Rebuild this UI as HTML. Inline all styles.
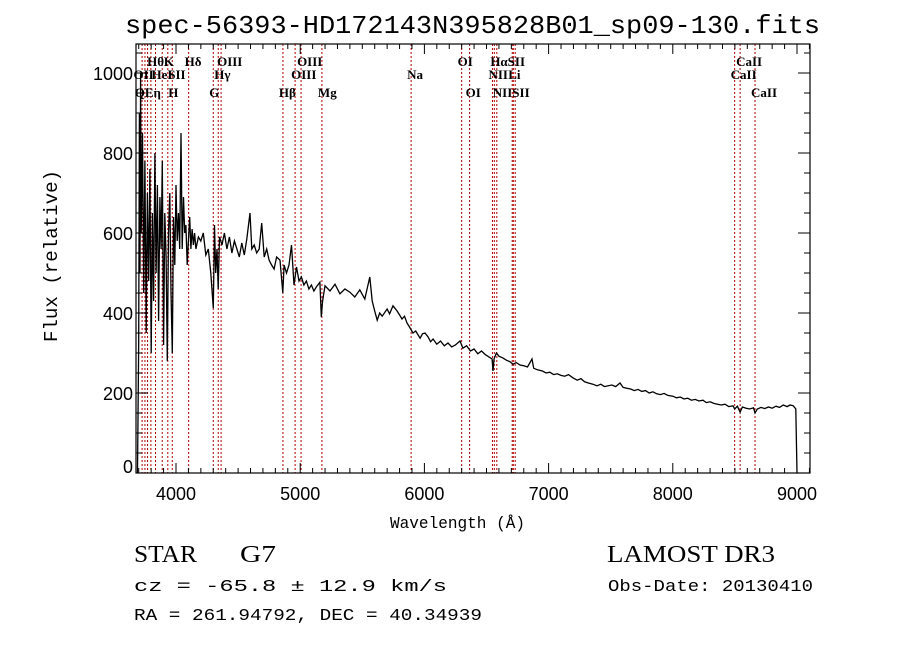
<!DOCTYPE html>
<html><head><meta charset="utf-8"><style>
html,body{margin:0;padding:0;background:#fff;}
svg{display:block;}
</style></head><body>
<svg id="chart" width="900" height="649" viewBox="0 0 900 649" xmlns="http://www.w3.org/2000/svg">
<rect width="900" height="649" fill="#fff"/>
<text x="125" y="33" font-family="Liberation Mono, monospace" font-size="26" textLength="695" lengthAdjust="spacingAndGlyphs">spec-56393-HD172143N395828B01_sp09-130.fits</text>
<g id="lines"></g>
<g id="labels" font-family="Liberation Serif, serif" font-size="13" font-weight="bold"></g>
<path id="spec" fill="none" stroke="#000" stroke-width="1.3"/>
<rect x="136" y="44" width="674" height="429" fill="none" stroke="#000" stroke-width="1.2"/>
<g id="ticks" stroke="#000" stroke-width="1"></g>
<g id="ticklabels" font-family="Liberation Sans, sans-serif" font-size="18"></g>
<text x="390" y="528" font-family="Liberation Mono, monospace" font-size="17" textLength="135" lengthAdjust="spacingAndGlyphs">Wavelength (Å)</text>
<text transform="translate(57,342) rotate(-90)" font-family="Liberation Mono, monospace" font-size="19" textLength="172" lengthAdjust="spacingAndGlyphs">Flux (relative)</text>
<text x="134" y="562" font-family="Liberation Serif, serif" font-size="24" textLength="63" lengthAdjust="spacingAndGlyphs">STAR</text>
<text x="240" y="562" font-family="Liberation Serif, serif" font-size="24" textLength="36" lengthAdjust="spacingAndGlyphs">G7</text>
<text x="607" y="562" font-family="Liberation Serif, serif" font-size="24" textLength="168" lengthAdjust="spacingAndGlyphs">LAMOST DR3</text>
<text x="134" y="591" font-family="Liberation Mono, monospace" font-size="17" textLength="313" lengthAdjust="spacingAndGlyphs">cz = -65.8 ± 12.9 km/s</text>
<text x="608" y="591" font-family="Liberation Mono, monospace" font-size="17" textLength="205" lengthAdjust="spacingAndGlyphs">Obs-Date: 20130410</text>
<text x="134" y="620" font-family="Liberation Mono, monospace" font-size="17" textLength="348" lengthAdjust="spacingAndGlyphs">RA = 261.94792, DEC =  40.34939</text>
</svg>
<script>
const wave = [3690,3700,3705,3710,3715,3720,3730,3740,3750,3760,3770,3780,3790,3800,3810,3820,3830,3840,3850,3860,3870,3880,3890,3900,3910,3920,3930,3940,3950,3960,3970,3980,3990,4000,4010,4020,4030,4040,4050,4060,4070,4080,4090,4100,4110,4120,4130,4140,4150,4160,4180,4200,4220,4240,4260,4280,4300,4310,4320,4330,4340,4350,4370,4390,4410,4430,4450,4470,4490,4510,4530,4550,4570,4596,4610,4630,4650,4670,4690,4710,4730,4750,4770,4790,4810,4837,4860,4870,4890,4910,4930,4950,4970,4990,5010,5030,5050,5070,5090,5110,5130,5159,5170,5180,
5200,5240,5280,5320,5360,5400,5440,5480,5520,5560,5580,5600,5620,5640,5660,5700,5720,5747,5780,5800,5820,5840,5860,5880,5908,5930,5965,5985,6005,6030,6050,6070,6100,6130,6160,6190,6220,6250,6287,6310,6340,6370,6400,6430,6460,6490,6520,6545,6552,6560,6580,6600,6630,6660,6690,6713,6740,6770,6800,6830,6866,6880,6910,6950,6980,7010,7040,7070,7100,7130,7160,7196,7230,7260,7290,7320,7357,7390,7420,7450,7480,7510,7540,7575,7600,7630,7660,7690,7720,7750,7780,7810,7840,7870,7900,7930,7960,8001,8030,8060,8090,8120,8150,8180,8210,8243,8270,8300,8330,8360,8390,8420,8450,8485,8498,8520,8542,8560,8590,8620,8650,8662,8680,8710,8740,8770,8800,8830,8860,8890,8920,8944,8970,8990,9000,9005];
const flux = [0,330,900,500,1000,600,850,450,780,350,700,480,760,300,650,430,800,500,720,380,690,560,780,320,650,540,280,600,700,450,300,640,520,720,580,650,560,850,560,690,600,620,520,580,640,560,610,570,600,560,590,580,600,545,560,500,412,620,500,560,460,590,570,600,560,590,550,580,560,540,575,545,585,650,560,570,550,560,625,540,560,532,520,510,540,532,450,520,500,520,570,470,515,480,490,470,480,460,470,455,465,477,390,430,
468,455,472,448,460,452,440,458,435,490,430,405,382,400,392,410,398,418,405,395,385,392,375,365,350,355,337,348,350,340,328,335,322,330,318,325,315,320,330,312,318,305,310,298,305,296,290,285,255,285,300,292,288,282,278,272,276,270,268,265,285,262,258,255,250,252,246,248,244,242,246,238,232,236,228,225,222,218,222,216,218,220,216,225,214,212,210,206,209,204,206,200,203,198,196,199,194,192,188,190,185,187,182,184,180,182,176,178,174,172,170,172,166,168,160,167,152,165,162,160,163,150,160,164,161,165,162,167,164,170,166,170,168,160,0,0];
const xTicks = [4000,5000,6000,7000,8000,9000];
const yTicks = [0,200,400,600,800,1000];
const lineWaves = [3727,3750,3771,3798,3835,3889,3934,3970,4102,4300,4340,4363,4861,4959,5007,5175,5893,6300,6364,6548,6563,6583,6707,6716,6731,8498,8542,8662];
const labelText = ["Hθ","K","Hδ","OIII","OIII","OI","HαSII","CaII","OII","HeI","SII","Hγ","OIII","Na","NII","Li","CaII","QEη","H","G","Hβ","Mg","OI","NIISII","CaII"];
const labelWave = [3800,3934,4102,4363,5007,6300,6563,8542,3690,3835,3970,4340,4959,5893,6548,6707,8498,3700,3970,4300,4861,5175,6364,6583,8662];
const labelRow = [0,0,0,0,0,0,0,0,1,1,1,1,1,1,1,1,1,2,2,2,2,2,2,2,2];

const X0=136,X1=810,Y0=473,Y1=44;
const xS = w => 176 + (w-4000)*0.1242;
const yS = f => Y0 - f*0.4;
const NS="http://www.w3.org/2000/svg";
function mk(tag, parent){const e=document.createElementNS(NS,tag);parent.appendChild(e);return e;}

let d="";
for(let i=0;i<wave.length;i++){
  const x=Math.min(Math.max(xS(wave[i]),X0),X1), y=Math.max(yS(flux[i]),Y1);
  d += (i?"L":"M")+x.toFixed(1)+" "+y.toFixed(1);
}
document.getElementById('spec').setAttribute('d',d);

const lg=document.getElementById('lines');
lineWaves.forEach(w=>{
  const l=mk('line',lg);
  
  
  const x=xS(w);
  l.setAttribute('x1',x);l.setAttribute('x2',x);l.setAttribute('y1',Y1);l.setAttribute('y2',Y0);
  l.setAttribute('stroke','#b00000');l.setAttribute('stroke-width','1');l.setAttribute('stroke-dasharray','2,2');
});
const lab=document.getElementById('labels');
const rowY=[66,79,97];
labelText.forEach((t,i)=>{
  const e=mk('text',lab);
  
  
  e.setAttribute('x',xS(labelWave[i])-4);e.setAttribute('y',rowY[labelRow[i]]);
  e.textContent=t;
});

const tg=document.getElementById('ticks'), tl=document.getElementById('ticklabels');
function tick(x1,y1,x2,y2){const l=mk('line',tg);
  
  
  l.setAttribute('x1',x1);l.setAttribute('y1',y1);l.setAttribute('x2',x2);l.setAttribute('y2',y2);}
for(let w=3700;w<=9100;w+=100){const x=xS(w);if(x<X0||x>X1)continue;const L=(w%1000===0)?10:5;tick(x,Y0,x,Y0-L);tick(x,Y1,x,Y1+L);}
for(let f=0;f<=1050;f+=50){const y=yS(f);if(y<Y1)continue;const L=(f%200===0)?12:6;tick(X0,y,X0+L,y);tick(X1,y,X1-L,y);}
xTicks.forEach(v=>{const e=mk('text',tl);
  
  
  e.setAttribute('x',xS(v));e.setAttribute('y',500);e.setAttribute('text-anchor','middle');e.textContent=v;});
yTicks.forEach(v=>{const e=mk('text',tl);
  
  
  e.setAttribute('x',133);e.setAttribute('y',Math.min(yS(v)+7,473));e.setAttribute('text-anchor','end');e.textContent=v;});
</script>
</body></html>
